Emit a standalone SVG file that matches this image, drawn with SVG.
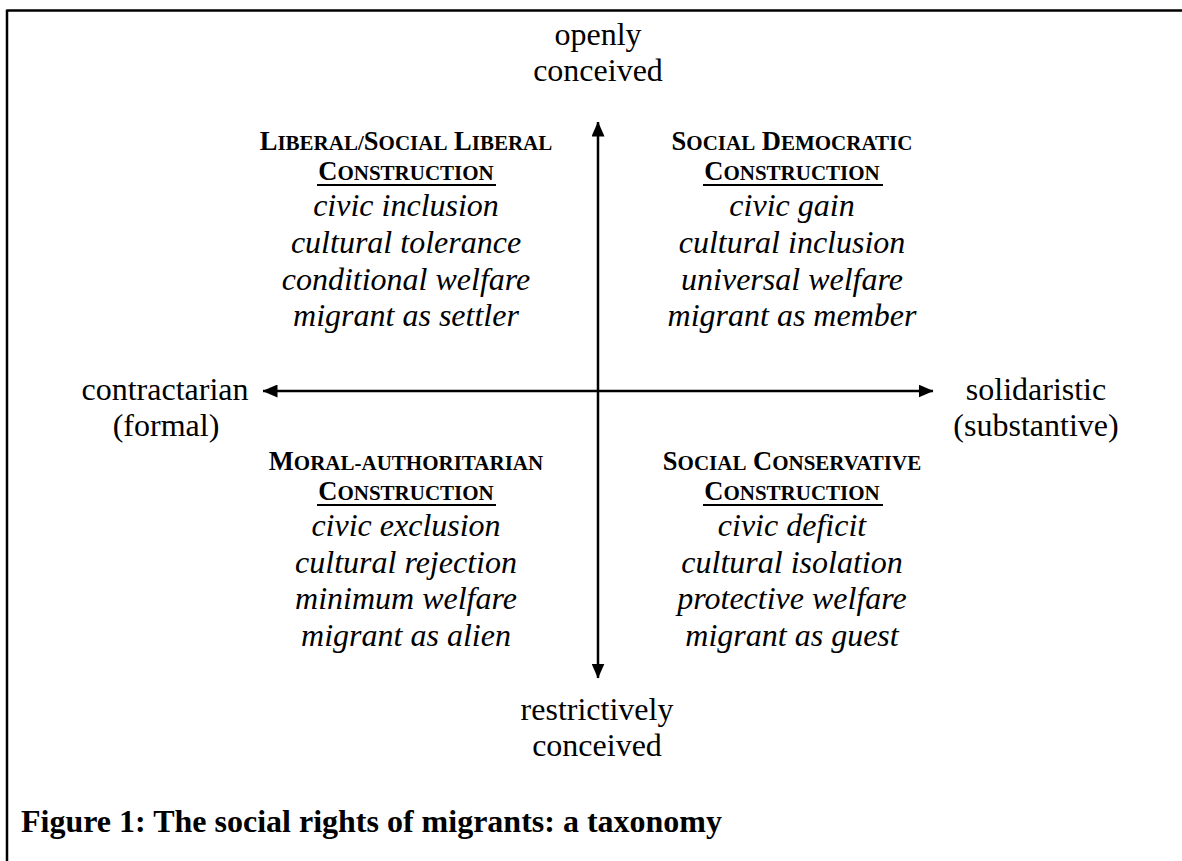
<svg xmlns="http://www.w3.org/2000/svg" width="1182" height="861" viewBox="0 0 1182 861">
<style>
text{font-family:"Liberation Serif","Times New Roman",serif;fill:#000;text-anchor:middle}
.n{font-size:32px}
.i{font-size:32px;font-style:italic}
.h{font-size:26.5px;font-weight:bold}
.s{font-size:21px}
.cap{font-size:32px;font-weight:bold;text-anchor:start}
.ax{stroke:#000;stroke-width:2.5;fill:none}
.ul{stroke:#000;stroke-width:2}
</style>
<defs>
<marker id="ah" viewBox="0 0 15 13" refX="14.5" refY="6.5" markerWidth="15" markerHeight="13" markerUnits="userSpaceOnUse" orient="auto">
<path d="M0,0 L15,6.5 L0,13 Z" fill="#000"/>
</marker>
</defs>
<rect width="1182" height="861" fill="#fff"/>
<g id="frame">
<path d="M7,10.5 H1182 M7,9.5 V861" stroke="#000" stroke-width="2.5" fill="none"/>
</g>
<g id="connectors">
<line class="ax" x1="598" y1="391" x2="598" y2="122" marker-end="url(#ah)"/>
<line class="ax" x1="598" y1="391" x2="598" y2="678" marker-end="url(#ah)"/>
<line class="ax" x1="598" y1="391" x2="263" y2="391" marker-end="url(#ah)"/>
<line class="ax" x1="598" y1="391" x2="933" y2="391" marker-end="url(#ah)"/>
</g>
<g id="top-label">
<text class="n" x="598" y="45">openly</text>
<text class="n" x="598" y="81">conceived</text>
</g>
<g id="bottom-label">
<text class="n" x="597" y="720">restrictively</text>
<text class="n" x="597" y="756">conceived</text>
</g>
<g id="left-label">
<text class="n" x="165" y="400">contractarian</text>
<text class="n" x="166" y="436">(formal)</text>
</g>
<g id="right-label">
<text class="n" x="1036" y="400">solidaristic</text>
<text class="n" x="1036" y="436">(substantive)</text>
</g>
<g id="liberal">
<text class="h" x="406" y="150">L<tspan class="s">IBERAL/</tspan>S<tspan class="s">OCIAL</tspan> L<tspan class="s">IBERAL</tspan></text>
<text class="h" x="406" y="180">C<tspan class="s">ONSTRUCTION</tspan></text>
<line class="ul" x1="317" y1="185" x2="496" y2="185"/>
<text class="i" x="406" y="216">civic inclusion</text>
<text class="i" x="406" y="253">cultural tolerance</text>
<text class="i" x="406" y="290">conditional welfare</text>
<text class="i" x="406" y="326">migrant as settler</text>
</g>
<g id="social-democratic">
<text class="h" x="792" y="150">S<tspan class="s">OCIAL</tspan> D<tspan class="s">EMOCRATIC</tspan></text>
<text class="h" x="792" y="180">C<tspan class="s">ONSTRUCTION</tspan></text>
<line class="ul" x1="703" y1="185" x2="883" y2="185"/>
<text class="i" x="792" y="216">civic gain</text>
<text class="i" x="792" y="253">cultural inclusion</text>
<text class="i" x="792" y="290">universal welfare</text>
<text class="i" x="792" y="326">migrant as member</text>
</g>
<g id="moral-authoritarian">
<text class="h" x="406" y="470">M<tspan class="s">ORAL-AUTHORITARIAN</tspan></text>
<text class="h" x="406" y="500">C<tspan class="s">ONSTRUCTION</tspan></text>
<line class="ul" x1="317" y1="505" x2="496" y2="505"/>
<text class="i" x="406" y="536">civic exclusion</text>
<text class="i" x="406" y="573">cultural rejection</text>
<text class="i" x="406" y="609">minimum welfare</text>
<text class="i" x="406" y="646">migrant as alien</text>
</g>
<g id="social-conservative">
<text class="h" x="792" y="470">S<tspan class="s">OCIAL</tspan> C<tspan class="s">ONSERVATIVE</tspan></text>
<text class="h" x="792" y="500">C<tspan class="s">ONSTRUCTION</tspan></text>
<line class="ul" x1="703" y1="505" x2="883" y2="505"/>
<text class="i" x="792" y="536">civic deficit</text>
<text class="i" x="792" y="573">cultural isolation</text>
<text class="i" x="792" y="609">protective welfare</text>
<text class="i" x="792" y="646">migrant as guest</text>
</g>
<g id="caption">
<text class="cap" x="21" y="832">Figure 1: The social rights of migrants: a taxonomy</text>
</g>
</svg>
